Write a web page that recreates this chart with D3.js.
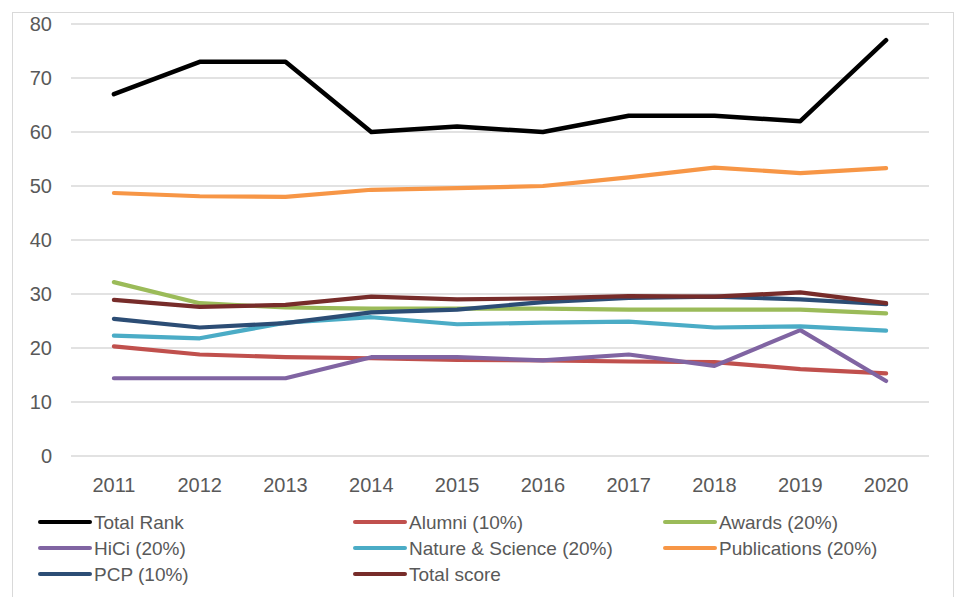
<!DOCTYPE html>
<html>
<head>
<meta charset="utf-8">
<script src="https://cdn.jsdelivr.net/npm/d3@7"></script>
<style>
  body { margin: 0; background: #fff; }
  text { font-family: "Liberation Sans", Arial, sans-serif; fill: #595959; }
</style>
</head>
<body>
<script>
// data
var years = ["2011","2012","2013","2014","2015","2016","2017","2018","2019","2020"];
var yTicks = [0,10,20,30,40,50,60,70,80];

var totalRank    = [67, 73, 73, 60, 61, 60, 63, 63, 62, 77];
var alumni       = [20.3, 18.8, 18.3, 18.1, 17.8, 17.7, 17.5, 17.4, 16.1, 15.3];
var awards       = [32.2, 28.3, 27.5, 27.3, 27.3, 27.3, 27.1, 27.1, 27.1, 26.4];
var hici         = [14.4, 14.4, 14.4, 18.3, 18.3, 17.7, 18.8, 16.7, 23.3, 13.9];
var natureSci    = [22.3, 21.8, 24.7, 25.7, 24.4, 24.7, 24.9, 23.8, 24.0, 23.2];
var publications = [48.7, 48.1, 48.0, 49.3, 49.6, 50.0, 51.6, 53.4, 52.4, 53.3];
var pcp          = [25.4, 23.8, 24.6, 26.6, 27.1, 28.5, 29.3, 29.5, 29.0, 28.1];
var totalScore   = [28.9, 27.6, 28.0, 29.5, 29.0, 29.2, 29.6, 29.5, 30.3, 28.3];

var seriesNames  = ["Total Rank","Alumni (10%)","Awards (20%)","HiCi (20%)","Nature & Science (20%)","Publications (20%)","PCP (10%)","Total score"];
var seriesValues = [totalRank, alumni, awards, hici, natureSci, publications, pcp, totalScore];
var seriesColors = ["#000000","#c0504d","#9bbb59","#8064a2","#4bacc6","#f79646","#2c4d75","#772c2a"];

var W = 954, H = 597;
var svg = d3.select("body").append("svg").attr("width", W).attr("height", H);

// chart border
svg.append("rect")
  .attr("x", 12.5).attr("y", 12.5)
  .attr("width", 941).attr("height", 600)
  .attr("fill", "none").attr("stroke", "#d9d9d9").attr("stroke-width", 1);

var x = d3.scaleBand().domain(years).range([71, 929]);
var y = d3.scaleLinear().domain([0, 80]).range([456, 24]);

// gridlines
svg.append("g").selectAll("line")
  .data(yTicks)
  .enter()
  .append("line")
    .attr("x1", 71).attr("x2", 929)
    .attr("y1", function(d){ return y(d); })
    .attr("y2", function(d){ return y(d); })
    .attr("stroke", "#d9d9d9").attr("stroke-width", 1.5);

// y labels
svg.append("g").selectAll("text")
  .data(yTicks)
  .enter()
  .append("text")
    .attr("x", 52)
    .attr("y", function(d){ return y(d) + 7; })
    .attr("text-anchor", "end")
    .style("font-size", "20px")
    .text(function(d){ return d; });

// x labels
svg.append("g").selectAll("text")
  .data(years)
  .enter()
  .append("text")
    .attr("x", function(d){ return x(d) + x.bandwidth()/2; })
    .attr("y", 492)
    .attr("text-anchor", "middle")
    .style("font-size", "20px")
    .text(function(d){ return d; });

// lines
var line = d3.line()
  .x(function(d,i){ return x(years[i]) + x.bandwidth()/2; })
  .y(function(d){ return y(d); });

svg.append("g").selectAll("path")
  .data(seriesValues)
  .enter()
  .append("path")
    .attr("d", function(d){ return line(d); })
    .attr("fill", "none")
    .attr("stroke", function(d,i){ return seriesColors[i]; })
    .attr("stroke-width", function(d,i){ return i == 0 ? 4.5 : 4.2; })
    .attr("stroke-linecap", "round")
    .attr("stroke-linejoin", "round");

// legend
var legX = [40, 355, 665];
var legend = svg.append("g").selectAll("g")
  .data(seriesNames)
  .enter()
  .append("g")
    .attr("transform", function(d,i){ return "translate(" + legX[i%3] + "," + (522 + Math.floor(i/3)*26) + ")"; });

legend.append("line")
  .attr("x1", 0).attr("x2", 50)
  .attr("stroke", function(d,i){ return seriesColors[i]; })
  .attr("stroke-width", 4)
  .attr("stroke-linecap", "round");

legend.append("text")
  .attr("x", 54)
  .attr("y", 7)
  .style("font-size", "19px")
  .text(function(d){ return d; });
</script>
</body>
</html>
